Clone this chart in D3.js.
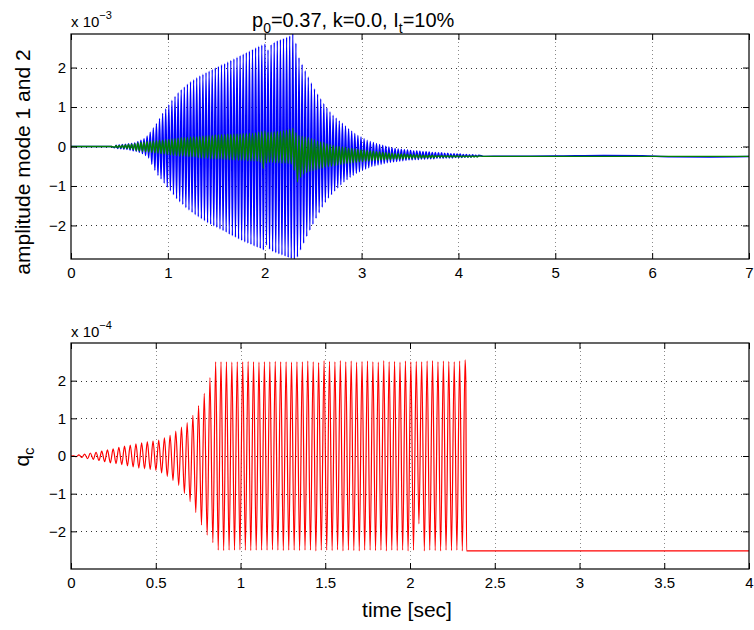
<!DOCTYPE html>
<html><head><meta charset="utf-8">
<script src="https://cdn.jsdelivr.net/npm/d3@7"></script>
<style>
body{margin:0;background:#fff}
text{font-family:"Liberation Sans",Arial,Helvetica,sans-serif;fill:#000}
</style>
</head><body>
<svg id="chart" width="754" height="630"></svg>
<script>
// ---------- DATA (amplitudes in units of 1e-3, qc in units of 1e-4) ----------
// Top panel: per-cycle extrema of mode 1 (blue) and mode 2 (green); one cycle every 0.032 s from t = 0.45 s
const topCycleStart = 0.45, topCyclePeriod = 0.032;
const mode1Peaks = [
 0.03,0.04,0.05,0.06,0.07,0.08,0.09,0.12,0.16,0.20,
 0.27,0.36,0.47,0.58,0.71,0.84,0.95,1.06,1.17,1.27,
 1.36,1.44,1.51,1.58,1.64,1.69,1.74,1.79,1.83,1.87,
 1.91,1.95,1.99,2.03,2.07,2.10,2.14,2.18,2.22,2.26,
 2.30,2.34,2.38,2.42,2.46,2.50,2.54,2.57,2.60,2.45,
 2.58,2.64,2.68,2.71,2.74,2.77,2.80,2.95,2.62,2.25,
 2.08,1.92,1.76,1.61,1.46,1.33,1.21,1.09,0.98,0.88,
 0.79,0.72,0.65,0.59,0.52,0.45,0.39,0.33,0.28,0.24,
 0.20,0.16,0.13,0.10,0.08,0.05,0.03,0.01,-0.01,-0.03,
 -0.05,-0.06,-0.07,-0.08,-0.09,-0.10,-0.11,-0.11,-0.12,-0.13,
 -0.13,-0.14,-0.15,-0.15,-0.16,-0.16,-0.17,-0.17,-0.18,-0.18,
 -0.19,-0.19,-0.20,-0.20,-0.21,-0.21,-0.22,-0.22];
const mode1Troughs = [
 -0.03,-0.05,-0.06,-0.07,-0.08,-0.09,-0.11,-0.12,-0.15,-0.18,
 -0.23,-0.29,-0.45,-0.60,-0.73,-0.82,-0.93,-1.03,-1.12,-1.22,
 -1.32,-1.40,-1.47,-1.55,-1.61,-1.67,-1.73,-1.78,-1.83,-1.88,
 -1.93,-1.97,-2.01,-2.05,-2.09,-2.13,-2.17,-2.22,-2.26,-2.30,
 -2.34,-2.38,-2.42,-2.45,-2.48,-2.52,-2.55,-2.58,-2.62,-2.50,
 -2.60,-2.66,-2.69,-2.72,-2.75,-2.78,-2.81,-2.84,-2.95,-2.80,
 -2.62,-2.45,-2.28,-2.12,-1.97,-1.82,-1.68,-1.54,-1.42,-1.31,
 -1.22,-1.13,-1.05,-0.97,-0.90,-0.84,-0.78,-0.73,-0.68,-0.64,
 -0.60,-0.57,-0.54,-0.51,-0.49,-0.47,-0.45,-0.43,-0.41,-0.40,
 -0.39,-0.38,-0.37,-0.36,-0.35,-0.34,-0.34,-0.33,-0.33,-0.32,
 -0.32,-0.31,-0.31,-0.31,-0.30,-0.30,-0.30,-0.29,-0.29,-0.29,
 -0.28,-0.28,-0.28,-0.27,-0.27,-0.27,-0.26,-0.26];
const mode2Peaks = [
 0.02,0.02,0.03,0.04,0.05,0.06,0.07,0.09,0.10,0.11,
 0.12,0.13,0.14,0.15,0.16,0.16,0.17,0.18,0.19,0.20,
 0.21,0.22,0.22,0.23,0.24,0.25,0.25,0.26,0.27,0.27,
 0.28,0.28,0.29,0.29,0.30,0.30,0.31,0.31,0.32,0.32,
 0.32,0.33,0.33,0.34,0.34,0.35,0.36,0.38,0.40,0.36,
 0.36,0.37,0.38,0.39,0.40,0.41,0.43,0.46,0.35,0.28,
 0.26,0.24,0.22,0.20,0.17,0.14,0.12,0.10,0.07,0.05,
 0.03,0.01,0.00,-0.01,-0.02,-0.04,-0.05,-0.06,-0.07,-0.08,
 -0.09,-0.10,-0.11,-0.12,-0.13,-0.14,-0.15,-0.16,-0.17,-0.17,
 -0.18,-0.18,-0.19,-0.19,-0.20,-0.20,-0.21,-0.21,-0.21,-0.22,
 -0.22,-0.22,-0.22,-0.23,-0.23,-0.23,-0.23,-0.23,-0.23,-0.23,
 -0.23,-0.24,-0.24,-0.24,-0.24,-0.24,-0.24,-0.24];
const mode2Troughs = [
 -0.02,-0.03,-0.03,-0.04,-0.05,-0.06,-0.08,-0.10,-0.11,-0.12,
 -0.13,-0.14,-0.15,-0.16,-0.17,-0.18,-0.19,-0.20,-0.21,-0.22,
 -0.23,-0.24,-0.24,-0.25,-0.26,-0.27,-0.27,-0.28,-0.29,-0.30,
 -0.30,-0.31,-0.31,-0.32,-0.32,-0.33,-0.33,-0.34,-0.34,-0.34,
 -0.35,-0.35,-0.35,-0.36,-0.36,-0.36,-0.37,-0.40,-0.56,-0.42,
 -0.40,-0.40,-0.41,-0.41,-0.42,-0.42,-0.43,-0.44,-0.60,-0.90,
 -0.78,-0.70,-0.66,-0.63,-0.61,-0.59,-0.57,-0.55,-0.53,-0.51,
 -0.50,-0.48,-0.47,-0.46,-0.44,-0.43,-0.42,-0.41,-0.40,-0.39,
 -0.38,-0.37,-0.37,-0.36,-0.35,-0.35,-0.34,-0.34,-0.33,-0.33,
 -0.32,-0.32,-0.31,-0.31,-0.30,-0.30,-0.30,-0.29,-0.29,-0.29,
 -0.28,-0.28,-0.28,-0.28,-0.27,-0.27,-0.27,-0.27,-0.27,-0.27,
 -0.27,-0.26,-0.26,-0.26,-0.26,-0.26,-0.26,-0.26];
// quiet head and settled tail of the two modes: [time, value]
const mode1Head = [[0,0],[0.42,0]];
const mode1Tail = [[4.26,-0.25],[4.5,-0.245],[5.0,-0.24],[5.5,-0.225],[5.9,-0.235],[6.2,-0.26],[6.6,-0.265],[7.0,-0.255]];
const mode2Head = [[0,0],[0.42,0]];
const mode2Tail = [[4.26,-0.25],[5.0,-0.25],[6.0,-0.25],[7.0,-0.25]];

// Bottom panel: qc per-cycle extrema; cycle peak times (growth then saturated phase)
const qcGrowthStart = 0.047, qcGrowthPeriod = 0.0336, qcGrowthCycles = 25;
const qcSatStart = 0.853, qcSatPeriod = 0.032, qcSatCycles = 46;
const qcTops = [
 0.03,0.05,0.08,0.10,0.13,0.16,0.19,0.23,0.26,0.29,
 0.32,0.35,0.38,0.40,0.42,0.48,0.55,0.66,0.77,0.89,
 1.08,1.34,1.66,2.08,2.50,
 2.50,2.50,2.49,2.50,2.50,2.51,2.50,2.49,2.50,2.50,
 2.51,2.50,2.50,2.49,2.50,2.50,2.52,2.50,2.48,2.53,
 2.51,2.50,2.53,2.50,2.52,2.49,2.51,2.52,2.50,2.49,
 2.53,2.50,2.51,2.49,2.52,2.50,2.51,2.50,2.52,2.53,
 2.50,2.52,2.51,2.50,2.52,2.55];
const qcTroughs = [
 -0.02,-0.04,-0.07,-0.09,-0.12,-0.15,-0.18,-0.20,-0.23,-0.26,
 -0.29,-0.32,-0.34,-0.36,-0.38,-0.45,-0.54,-0.65,-0.78,-0.99,
 -1.21,-1.50,-1.83,-2.10,-2.30,
 -2.50,-2.51,-2.50,-2.50,-2.49,-2.50,-2.51,-2.50,-2.50,-2.50,
 -2.49,-2.50,-2.51,-2.50,-2.50,-2.51,-2.50,-2.50,-2.52,-2.50,
 -2.50,-2.51,-2.49,-2.52,-2.50,-2.51,-2.52,-2.50,-2.50,-2.51,
 -2.50,-2.52,-2.50,-2.51,-2.50,-2.52,-2.50,-1.80,-2.52,-2.50,
 -2.51,-2.52,-2.50,-2.51,-2.50,-2.52];
const qcHead = [[0,0],[0.015,0.005]];
const qcTail = [[2.329,2.05],[2.334,-2.52],[4.0,-2.52]];

// axes ticks
const topXTicks = [0,1,2,3,4,5,6,7];
const topYTicks = [-2,-1,0,1,2];
const botXTicks = [0,0.5,1,1.5,2,2.5,3,3.5,4];
const botYTicks = [-2,-1,0,1,2];

// ---------- BUILD SERIES ----------
const topCycleTimes = d3.range(mode1Peaks.length).map(i => topCycleStart + topCyclePeriod * i);
function interleave(cycleTimes, troughs, peaks, half) {
  const pts = [];
  cycleTimes.forEach((t, i) => { pts.push([t, troughs[i]]); pts.push([t + half, peaks[i]]); });
  return pts;
}
const mode1 = mode1Head.concat(interleave(topCycleTimes, mode1Troughs, mode1Peaks, topCyclePeriod/2), mode1Tail);
const mode2 = mode2Head.concat(interleave(topCycleTimes, mode2Troughs, mode2Peaks, topCyclePeriod/2), mode2Tail);

const qcTopTimes = d3.range(qcGrowthCycles).map(i => qcGrowthStart + qcGrowthPeriod * i)
  .concat(d3.range(1, qcSatCycles + 1).map(i => qcSatStart + qcSatPeriod * i));
const qc = qcHead.slice();
qcTopTimes.forEach((t, i) => { qc.push([t - 0.0164, qcTroughs[i]]); qc.push([t, qcTops[i]]); });
qcTail.forEach(p => qc.push(p));

// ---------- DRAW ----------
const svg = d3.select('#chart');
svg.append('rect').attr('width',754).attr('height',630).attr('fill','#fff');
const L = 71, R = 749;

function panel(opt) {
  const x = d3.scaleLinear().domain(opt.xDomain).range([L, R]);
  const y = d3.scaleLinear().domain(opt.yDomain).range([opt.bottom, opt.top]);
  const g = svg.append('g');
  // grid
  g.selectAll('.vg').data(opt.xTicks.filter(v => v > opt.xDomain[0] && v < opt.xDomain[1])).enter()
    .append('line').attr('x1', d => Math.round(x(d)) + 0.5).attr('x2', d => Math.round(x(d)) + 0.5)
    .attr('y1', opt.top).attr('y2', opt.bottom)
    .attr('stroke', '#8a8a8a').attr('stroke-width', 1).attr('stroke-dasharray', '1,3');
  g.selectAll('.hg').data(opt.yTicks).enter()
    .append('line').attr('y1', d => Math.round(y(d)) + 0.5).attr('y2', d => Math.round(y(d)) + 0.5)
    .attr('x1', L).attr('x2', R)
    .attr('stroke', '#333').attr('stroke-width', 1).attr('stroke-dasharray', '1,4');
  // clip
  const cid = 'clip' + opt.id;
  svg.append('clipPath').attr('id', cid).append('rect')
    .attr('x', L).attr('y', opt.top).attr('width', R - L).attr('height', opt.bottom - opt.top);
  const line = d3.line().x(d => x(d[0])).y(d => y(d[1])).curve(d3.curveMonotoneX);
  opt.series.forEach(s => {
    g.append('path').attr('d', line(s.data)).attr('fill', 'none')
      .attr('stroke', s.color).attr('stroke-width', s.width).attr('clip-path', `url(#${cid})`);
  });
  // axes
  const fmt = d => d3.format('')(d).replace('-', '\u2212');
  const ax = g.append('g').attr('transform', `translate(0,${opt.bottom})`)
    .call(d3.axisBottom(x).tickValues(opt.xTicks).tickSize(-6).tickFormat(fmt));
  ax.selectAll('text').attr('y', 8).attr('dy', '0.71em').style('font-size', '15px')
    .style('font-family', '"Liberation Sans",Arial,sans-serif');
  g.append('g').attr('transform', `translate(0,${opt.top})`)
    .call(d3.axisTop(x).tickValues(opt.xTicks).tickSize(-6).tickFormat(''));
  const ay = g.append('g').attr('transform', `translate(${L},0)`)
    .call(d3.axisLeft(y).tickValues(opt.yTicks).tickSize(-6).tickPadding(5).tickFormat(fmt));
  ay.selectAll('text').style('font-size', '15px').style('font-family', '"Liberation Sans",Arial,sans-serif');
  g.append('g').attr('transform', `translate(${R},0)`)
    .call(d3.axisRight(y).tickValues(opt.yTicks).tickSize(-6).tickFormat(''));
  g.selectAll('.domain').remove();
  g.selectAll('.tick line').attr('stroke', '#000');
  g.append('rect').attr('x', L).attr('y', opt.top).attr('width', R - L).attr('height', opt.bottom - opt.top)
    .attr('fill', 'none').attr('stroke', '#000').attr('stroke-width', 1.2);
  // exponent label
  const ex = svg.append('text').attr('x', L).attr('y', opt.expY).style('font-size', '15px');
  ex.append('tspan').text('x 10');
  ex.append('tspan').attr('dy', -8).style('font-size', '11px').text(opt.expText);
  return {x, y};
}

panel({id: 'top', top: 34, bottom: 259, xDomain: [0, 7], yDomain: [-2.85, 2.85],
  xTicks: topXTicks, yTicks: topYTicks, expY: 27, expText: '\u22123',
  series: [{data: mode1, color: '#0000ff', width: 1.4}, {data: mode2, color: '#007f00', width: 1.4}]});
panel({id: 'bot', top: 343, bottom: 569, xDomain: [0, 4], yDomain: [-3, 3],
  xTicks: botXTicks, yTicks: botYTicks, expY: 337, expText: '\u22124',
  series: [{data: qc, color: '#ff0000', width: 1.2}]});

// title
const title = svg.append('text').attr('x', 252).attr('y', 27).style('font-size', '20px');
title.append('tspan').text('p');
title.append('tspan').attr('dy', 6).style('font-size', '14px').text('0');
title.append('tspan').attr('dy', -6).text('=0.37, k=0.0, I');
title.append('tspan').attr('dy', 6).style('font-size', '14px').text('t');
title.append('tspan').attr('dy', -6).text('=10%');

// y labels
svg.append('text').attr('transform', 'translate(30,162) rotate(-90)')
  .attr('text-anchor', 'middle').style('font-size', '21px').text('amplitude mode 1 and 2');
const qlab = svg.append('text').attr('transform', 'translate(29,457) rotate(-90)')
  .attr('text-anchor', 'middle').style('font-size', '21px');
qlab.append('tspan').text('q');
qlab.append('tspan').attr('dy', 5).style('font-size', '15px').text('c');

// x label
svg.append('text').attr('x', 407).attr('y', 617).attr('text-anchor', 'middle')
  .style('font-size', '21px').text('time [sec]');
</script>
</body></html>
